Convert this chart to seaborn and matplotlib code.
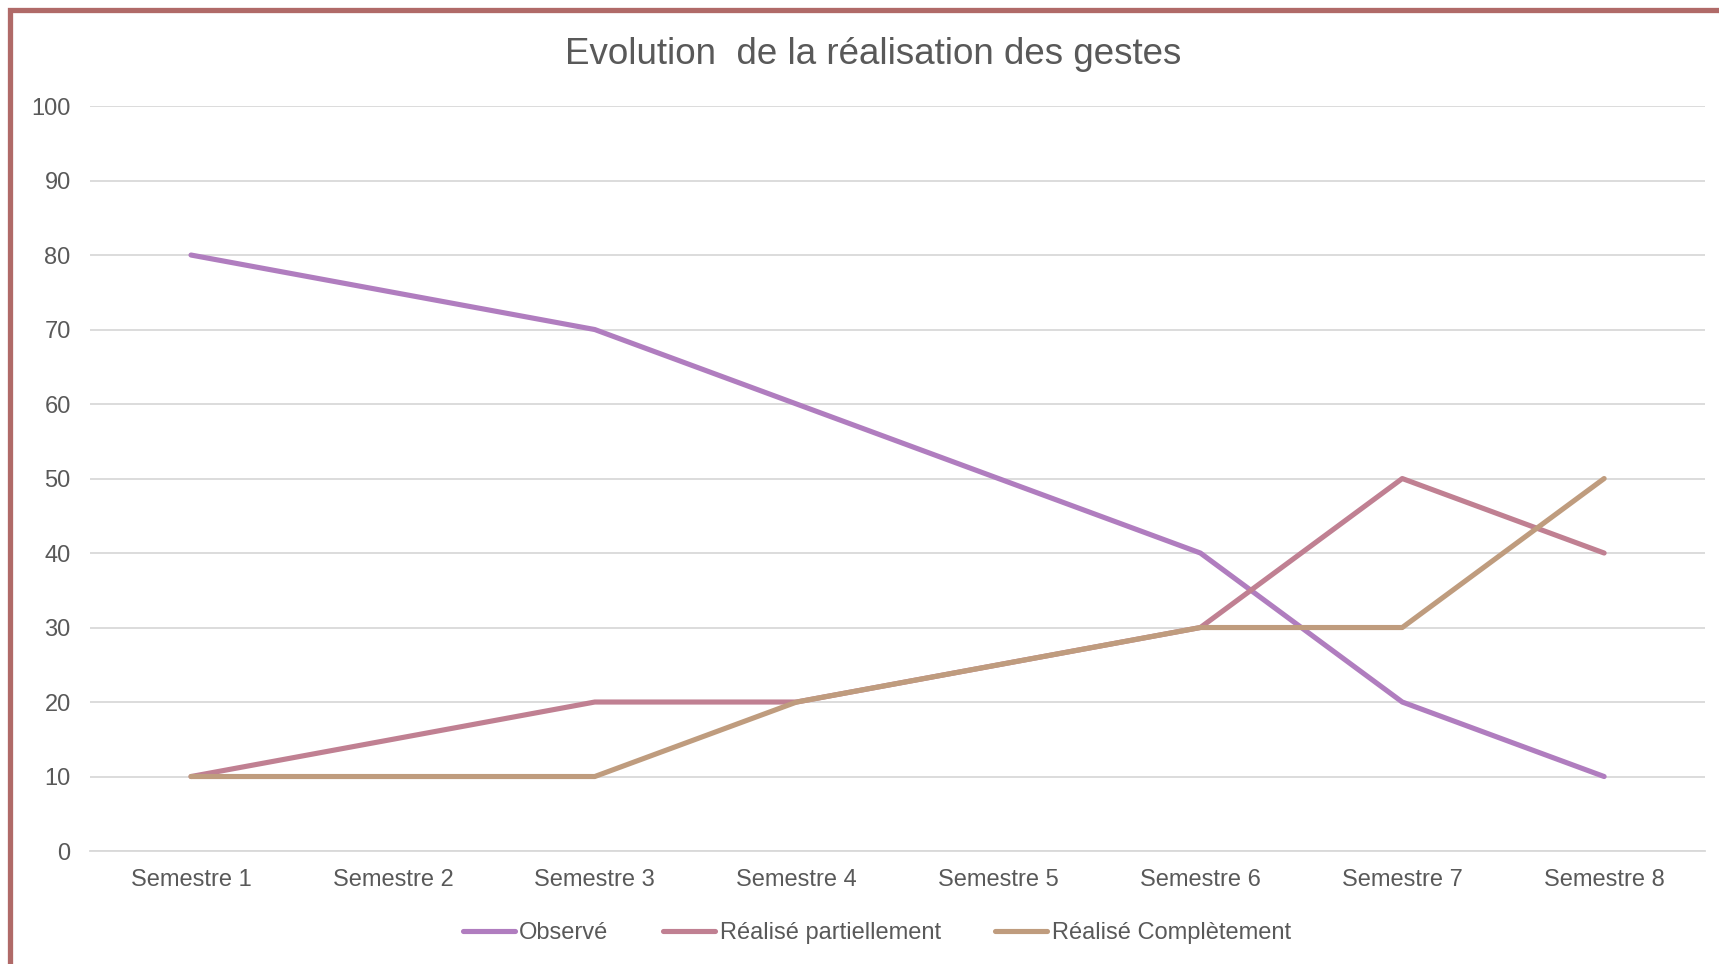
import pandas as pd
import seaborn as sns
import matplotlib.pyplot as plt
from matplotlib.patches import Rectangle

semestres = ["Semestre 1", "Semestre 2", "Semestre 3", "Semestre 4",
             "Semestre 5", "Semestre 6", "Semestre 7", "Semestre 8"]
observe = [80, 75, 70, 60, 50, 40, 20, 10]
partiel = [10, 15, 20, 20, 25, 30, 50, 40]
complet = [10, 10, 10, 20, 25, 30, 30, 50]

series = ["Observé", "Réalisé partiellement", "Réalisé Complètement"]
colors = ["#B07DBF", "#C08092", "#BF9C7E"]

df = pd.DataFrame({"semestre": semestres * 3,
                   "x": list(range(len(semestres))) * 3,
                   "valeur": observe + partiel + complet,
                   "serie": [s for s in series for _ in semestres]})

sns.set_style("white")
plt.rcParams["font.family"] = ["Liberation Sans", "DejaVu Sans"]

fig = plt.figure(figsize=(17.19, 9.64), dpi=100)
ax = fig.add_axes([0.0524, 0.1172, 0.9395, 0.7728])

sns.lineplot(data=df, x="x", y="valeur", hue="serie", hue_order=series,
             palette=colors, linewidth=3.7, ax=ax, legend=False,
             solid_capstyle="round")

ax.set_xlim(-0.5, 7.5)
ax.set_ylim(0, 100)
ax.set_yticks(range(0, 101, 10))
ax.set_xticks(range(len(semestres)))
ax.set_xticklabels(semestres)
ax.yaxis.grid(True, color="#D9D9D9", linewidth=1.3)
ax.set_axisbelow(True)
for s in ["top", "right", "left"]:
    ax.spines[s].set_visible(False)
ax.spines["bottom"].set_color("#D9D9D9")
ax.spines["bottom"].set_linewidth(1.3)
ax.tick_params(axis="both", length=0, labelsize=17, colors="#595959")
ax.tick_params(axis="x", pad=13)
ax.tick_params(axis="y", pad=14)
ax.set_xlabel("")
ax.set_ylabel("")

fig.text(0.508, 0.943, "Evolution  de la réalisation des gestes",
         ha="center", va="center", fontsize=26.5, color="#595959")

handles = [plt.Line2D([], [], color=c, linewidth=3.7, solid_capstyle="round")
           for c in colors]
fig.legend(handles, series, loc="center", bbox_to_anchor=(0.51, 0.032),
           ncol=3, frameon=False, fontsize=17, labelcolor="#595959",
           handlelength=2.2, handletextpad=0.2, columnspacing=2.3)

fig.add_artist(Rectangle((10 / 1719, -0.1), 1.2, 1 - 10 / 964 + 0.1,
                         transform=fig.transFigure, fill=False,
                         edgecolor="#B06A68", linewidth=3.8, clip_on=False))

fig.savefig("out.png", dpi=100)
